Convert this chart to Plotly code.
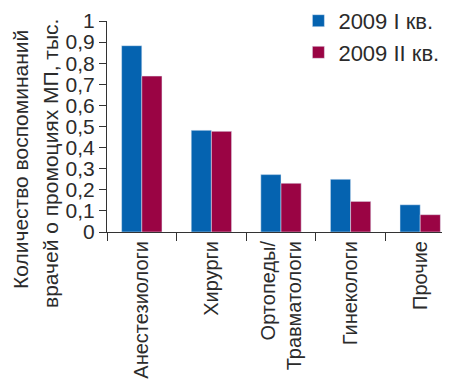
import plotly.graph_objects as go

categories = ["Анестезиологи", "Хирурги", "Ортопеды/<br>Травматологи", "Гинекологи", "Прочие"]
q1_2009 = [0.883, 0.482, 0.272, 0.250, 0.129]
q2_2009 = [0.739, 0.477, 0.231, 0.145, 0.082]
series_names = ["2009 I кв.", "2009 II кв."]
y_tickvals = [0, 0.1, 0.2, 0.3, 0.4, 0.5, 0.6, 0.7, 0.8, 0.9, 1]
y_ticktext = ["0", "0,1", "0,2", "0,3", "0,4", "0,5", "0,6", "0,7", "0,8", "0,9", "1"]
title_lines = ["Количество воспоминаний", "врачей о промоциях МП, тыс."]

FONT = "Liberation Sans, Arial, sans-serif"
W, H = 450, 386
L, R, T, B = 99, 3, 13, 162
PW, PH = W - L - R, H - T - B

fig = go.Figure()
fig.add_trace(go.Bar(x=categories, y=q1_2009, name=series_names[0], marker_color="#0563b0"))
fig.add_trace(go.Bar(x=categories, y=q2_2009, name=series_names[1], marker_color="#9a0444"))

# rotated two-line axis title, drawn as annotations (px -> paper)
for px, py, txt in [(12, 152, title_lines[0]), (42, 156, title_lines[1])]:
    fig.add_annotation(
        text=txt, textangle=-90, showarrow=False,
        xref="paper", yref="paper",
        x=(px - L) / PW, y=(H - B - py) / PH,
        xanchor="center", yanchor="middle",
        font=dict(size=21, family=FONT, color="#2b2b2b"),
    )

fig.update_layout(
    width=W, height=H,
    margin=dict(l=L, r=R, t=T, b=B, autoexpand=False),
    paper_bgcolor="white", plot_bgcolor="white",
    barmode="group", bargap=0.42, bargroupgap=0,
    font=dict(family=FONT, size=20, color="#2b2b2b"),
    showlegend=True,
    legend=dict(x=0.55, y=1.1, xanchor="left", yanchor="top",
                bgcolor="rgba(0,0,0,0)", font=dict(size=22, family=FONT),
                itemwidth=30),
    xaxis=dict(
        type="category", range=[-0.5, 4.5], automargin=False,
        showline=True, linecolor="#333", linewidth=1,
        ticks="outside", ticklen=8, tickcolor="#333", tickson="boundaries",
        tickangle=-90, tickfont=dict(size=20, family=FONT),
        showgrid=False,
    ),
    yaxis=dict(
        range=[0, 1], tickvals=y_tickvals, ticktext=y_ticktext, automargin=False,
        showline=True, linecolor="#333", linewidth=1,
        ticks="outside", ticklen=7, tickcolor="#333",
        tickfont=dict(size=21, family=FONT),
        showgrid=False, zeroline=False,
    ),
)

fig.write_html("out.html")
